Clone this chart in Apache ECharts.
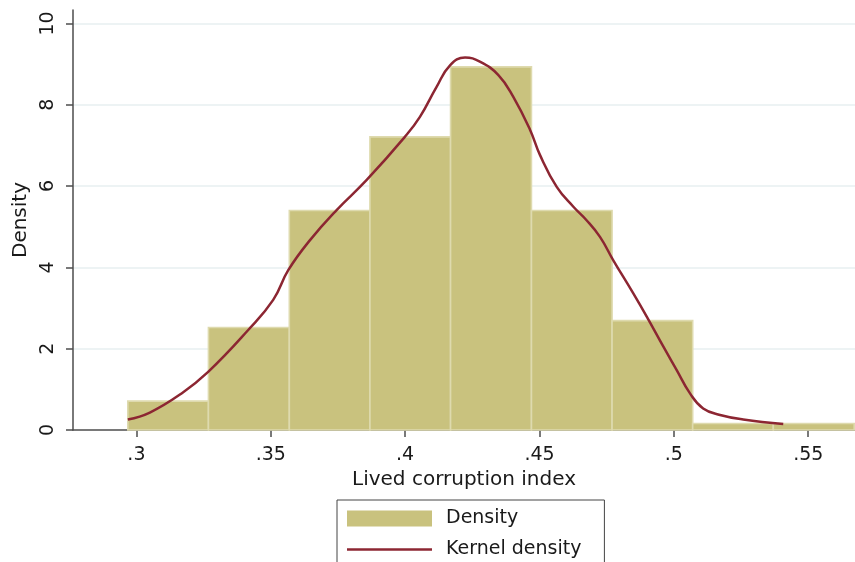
<!DOCTYPE html>
<html>
<head>
<meta charset="utf-8">
<script src="https://cdn.jsdelivr.net/npm/echarts@6/dist/echarts.min.js"></script>
<style>
html,body{margin:0;padding:0;background:#fff;}
#chart{width:855px;height:562px;}
</style>
</head>
<body>
<div id="chart"></div>
<script>
// Histogram bin edges (Lived corruption index)
var binEdges = [0.2968, 0.3268, 0.3569, 0.3869, 0.4169, 0.4470, 0.4770, 0.5070, 0.5370, 0.5671];
// Histogram densities per bin
var binDensity = [0.71, 2.52, 5.40, 7.21, 8.93, 5.40, 2.69, 0.16, 0.16];
// Kernel density curve (x, density)
var kernelX = [0.2968, 0.3050, 0.3168, 0.3267, 0.3416, 0.3509, 0.3565, 0.3646, 0.3745, 0.3857,
               0.3999, 0.4055, 0.4117, 0.4167, 0.4223, 0.4278, 0.4347, 0.4402, 0.4465, 0.4502,
               0.4564, 0.4626, 0.4675, 0.4725, 0.4774, 0.4849, 0.4899, 0.4961, 0.5010, 0.5060,
               0.5109, 0.5172, 0.5258, 0.5407];
var kernelY = [0.26, 0.43, 0.90, 1.43, 2.46, 3.20, 3.93, 4.67, 5.41, 6.15,
               7.21, 7.70, 8.44, 8.97, 9.16, 9.06, 8.73, 8.20, 7.38, 6.76,
               5.98, 5.49, 5.16, 4.75, 4.18, 3.36, 2.79, 2.05, 1.48, 0.90,
               0.53, 0.37, 0.26, 0.15];
// Tick values
var xTicks = [0.3, 0.35, 0.4, 0.45, 0.5, 0.55];
var yTicks = [0, 2, 4, 6, 8, 10];
var yGrid = [2, 4, 6, 8, 10];

var histData = [];
for (var i = 0; i < binDensity.length; i++) {
  histData.push([binEdges[i], binEdges[i + 1], binDensity[i]]);
}
var kernelData = kernelX.map(function (x, i) { return [x, kernelY[i]]; });

function fmtX(v) {
  var s = (+v).toFixed(2).replace(/0+$/, '');
  return s.replace(/^0/, '');
}

var FONT = 'DejaVu Sans';
var chart = echarts.init(document.getElementById('chart'), null, {renderer: 'canvas'});
chart.setOption({
  animation: false,
  backgroundColor: '#ffffff',
  textStyle: {fontFamily: FONT},
  grid: {left: 73, right: 0, top: 10, bottom: 132, containLabel: false},
  xAxis: {
    type: 'value',
    min: 0.2764,
    max: 0.5674,
    name: 'Lived corruption index',
    nameLocation: 'middle',
    nameGap: 36,
    nameTextStyle: {fontFamily: FONT, fontSize: 20, color: '#1a1a1a'},
    axisLine: {show: true, lineStyle: {color: '#4d4d4d', width: 1.5}},
    axisTick: {show: true, length: 7, customValues: xTicks, lineStyle: {color: '#4d4d4d', width: 1.5}},
    axisLabel: {customValues: xTicks, formatter: fmtX, margin: 16, fontFamily: FONT, fontSize: 19, color: '#1a1a1a'},
    splitLine: {show: false}
  },
  yAxis: {
    type: 'value',
    min: 0,
    max: 10.33,
    name: 'Density',
    nameLocation: 'middle',
    nameRotate: 90,
    nameGap: 35,
    nameTextStyle: {fontFamily: FONT, fontSize: 20, color: '#1a1a1a'},
    axisLine: {show: true, lineStyle: {color: '#4d4d4d', width: 1.5}},
    axisTick: {show: true, length: 7, customValues: yTicks, lineStyle: {color: '#4d4d4d', width: 1.5}},
    axisLabel: {customValues: yTicks, rotate: 90, margin: 15, fontFamily: FONT, fontSize: 19, color: '#1a1a1a'},
    splitLine: {show: false}
  },
  legend: {
    orient: 'vertical',
    left: 337,
    top: 500,
    height: 120,
    padding: [9, 23, 30, 10],
    itemGap: 12,
    itemWidth: 85,
    itemHeight: 16,
    borderColor: '#444444',
    borderWidth: 1,
    textStyle: {fontFamily: FONT, fontSize: 19, color: '#1a1a1a', padding: [0, 0, 0, 9]},
    data: [
      {name: 'Density', icon: 'rect'},
      {name: 'Kernel density', icon: 'path://M0,0 L100,0 L100,3 L0,3 Z'}
    ]
  },
  series: [
    {
      name: 'Density',
      type: 'custom',
      data: histData,
      encode: {x: [0, 1], y: 2},
      itemStyle: {color: '#c9c27e'},
      renderItem: function (params, api) {
        var p0 = api.coord([api.value(0), 0]);
        var p1 = api.coord([api.value(1), api.value(2)]);
        return {
          type: 'rect',
          shape: {x: p0[0], y: p1[1], width: p1[0] - p0[0], height: p0[1] - p1[1]},
          style: {fill: '#c9c27e', stroke: '#dedaae', lineWidth: 1.6}
        };
      },
      markLine: {
        silent: true,
        symbol: 'none',
        label: {show: false},
        lineStyle: {color: '#e7eff1', width: 1.5, type: 'solid'},
        data: yGrid.map(function (v) { return {yAxis: v}; }),
        z: -1
      },
      z: 2
    },
    {
      name: 'Kernel density',
      type: 'line',
      data: kernelData,
      smooth: 0.45,
      symbol: 'none',
      lineStyle: {color: '#8c2632', width: 2.5},
      itemStyle: {color: '#8c2632'},
      z: 5
    }
  ]
});
</script>
</body>
</html>
